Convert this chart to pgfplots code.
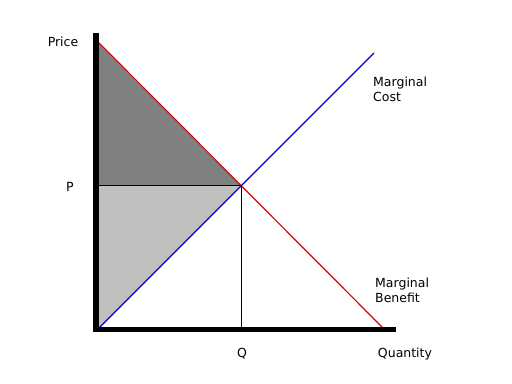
\documentclass[border=0pt]{standalone}
\usepackage{pgfplots}
\pgfplotsset{compat=1.18}
\usepackage{fontspec}
\setmainfont{DejaVu Sans}
\definecolor{darkfill}{RGB}{128,128,128}
\definecolor{lightfill}{RGB}{192,192,192}
\definecolor{mbred}{RGB}{220,0,0}
\definecolor{mcblue}{RGB}{0,0,190}
\begin{document}
\begin{tikzpicture}
\begin{axis}[
  scale only axis, width=512bp, height=384bp,
  xmin=-97, xmax=415, ymin=-54, ymax=330,
  hide axis, clip=false,
  font=\fontsize{12.5bp}{15bp}\selectfont,
]
% page frame (sets the picture size)
\path (axis cs:-97,-54) rectangle (axis cs:415,330);
% surplus areas
\addplot[fill=darkfill, draw=none] coordinates {(0,144) (0,288) (144,144)} -- cycle;
\addplot[fill=lightfill, draw=none] coordinates {(0,0) (0,144) (144,144)} -- cycle;
% guide lines at P and Q
\addplot[black, line width=1bp] coordinates {(0,144) (144,144) (144,0)};
% marginal benefit and marginal cost
\addplot[mbred, line width=1.2bp] coordinates {(0,289) (288,0)};
\addplot[mcblue, line width=1.2bp] coordinates {(0,0) (277,277)};
% thick axes
\addplot[black, line width=6bp] coordinates {(-1,297) (-1,-2)};
\addplot[black, line width=5.5bp] coordinates {(-4,0.5) (299,0.5)};
% labels
\node at (axis cs:-34,288) {Price};
\node at (axis cs:-27,143) {P};
\node at (axis cs:145,-24) {Q};
\node at (axis cs:308,-24) {Quantity};
\node[anchor=west, align=left, inner sep=0pt] at (axis cs:276,241) {Marginal\\Cost};
\node[anchor=west, align=left, inner sep=0pt] at (axis cs:278,40) {Marginal\\Benefit};
\end{axis}
\end{tikzpicture}
\end{document}
